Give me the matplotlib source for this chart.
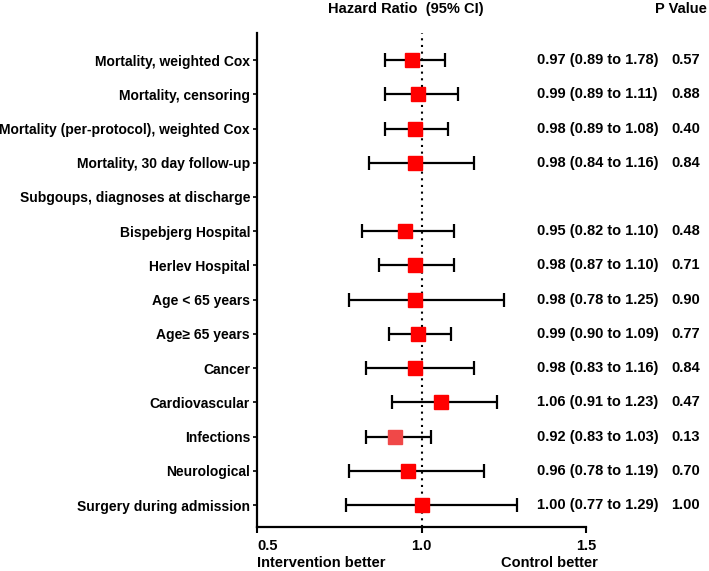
import numpy as np
import matplotlib
matplotlib.use('Agg')
from matplotlib import pyplot as plt
from matplotlib.transforms import blended_transform_factory

plt.rcParams['font.family'] = ['Liberation Sans', 'DejaVu Sans']
plt.rcParams['font.weight'] = 'bold'

labels = ['Mortality, weighted Cox', 'Mortality, censoring',
          'Mortality (per-protocol), weighted Cox', 'Mortality, 30 day follow-up',
          'Subgoups, diagnoses at discharge', 'Bispebjerg Hospital',
          'Herlev Hospital', 'Age < 65 years', 'Age\u2265 65 years', 'Cancer',
          'Cardiovascular', 'Infections', 'Neurological', 'Surgery during admission']
hr = [0.97, 0.99, 0.98, 0.98, None, 0.95, 0.98, 0.98, 0.99, 0.98, 1.06, 0.92, 0.96, 1.00]
lo = [0.89, 0.89, 0.89, 0.84, None, 0.82, 0.87, 0.78, 0.90, 0.83, 0.91, 0.83, 0.78, 0.77]
hi = [1.07, 1.11, 1.08, 1.16, None, 1.10, 1.10, 1.25, 1.09, 1.16, 1.23, 1.03, 1.19, 1.29]
hr_text = ['0.97 (0.89 to 1.78)', '0.99 (0.89 to 1.11)', '0.98 (0.89 to 1.08)',
           '0.98 (0.84 to 1.16)', '', '0.95 (0.82 to 1.10)', '0.98 (0.87 to 1.10)',
           '0.98 (0.78 to 1.25)', '0.99 (0.90 to 1.09)', '0.98 (0.83 to 1.16)',
           '1.06 (0.91 to 1.23)', '0.92 (0.83 to 1.03)', '0.96 (0.78 to 1.19)',
           '1.00 (0.77 to 1.29)']
p_text = ['0.57', '0.88', '0.40', '0.84', '', '0.48', '0.71', '0.90', '0.77',
          '0.84', '0.47', '0.13', '0.70', '1.00']
xticks = [0.5, 1.0, 1.5]

fig = plt.figure(figsize=(7.09, 5.71), dpi=100)
ax = fig.add_axes([257 / 709, 1 - 527 / 571, 329 / 709, 494 / 571])

ypos = np.arange(len(labels))
for i in ypos:
    if hr[i] is None:
        continue
    col = '#f04848' if labels[i] == 'Infections' else '#ff0000'
    ax.errorbar([hr[i]], [i], xerr=[[hr[i] - lo[i]], [hi[i] - hr[i]]], fmt='none',
                ecolor='black', elinewidth=1.6, capsize=4.8, capthick=1.6, zorder=2)
    ax.plot(hr[i], i, marker='s', ms=10, color=col, mec=col, ls='none', zorder=3)

ax.axvline(1.0, color='black', ls=(0, (1, 2.2)), lw=1.5, zorder=1)

ax.set_xlim(0.5, 1.5)
ax.set_ylim(13.64, -0.79)
ax.set_yticks(ypos)
ax.set_yticklabels(labels, fontsize=10, fontweight='bold')
ax.set_xticks(xticks)
ax.set_xticklabels(['0.5', '1.0', '1.5'], fontsize=10.5, fontweight='bold')
ax.get_xticklabels()[0].set_ha('left')
ax.tick_params(axis='y', length=3, width=1.2, pad=2)
ax.tick_params(axis='x', length=4, width=1.5, pad=5)
for s in ['top', 'right']:
    ax.spines[s].set_visible(False)
for s in ['left', 'bottom']:
    ax.spines[s].set_linewidth(1.6)

trans = blended_transform_factory(fig.transFigure, ax.transData)
for i in ypos:
    ax.text(537 / 709, i, hr_text[i], transform=trans, fontsize=10.5,
            fontweight='bold', va='center', ha='left')
    ax.text(671 / 709, i, p_text[i], transform=trans, fontsize=10.5,
            fontweight='bold', va='center', ha='left')

fig.text(406 / 709, 1 - 9 / 571, 'Hazard Ratio  (95% CI)', fontsize=10.5,
         fontweight='bold', ha='center', va='center')
fig.text(707 / 709, 1 - 9 / 571, 'P Value', fontsize=10.5,
         fontweight='bold', ha='right', va='center')
fig.text(257 / 709, 1 - 563 / 571, 'Intervention better', fontsize=10.5,
         fontweight='bold', ha='left', va='center')
fig.text(598 / 709, 1 - 563 / 571, 'Control better', fontsize=10.5,
         fontweight='bold', ha='right', va='center')

fig.savefig('out.png', dpi=100)
